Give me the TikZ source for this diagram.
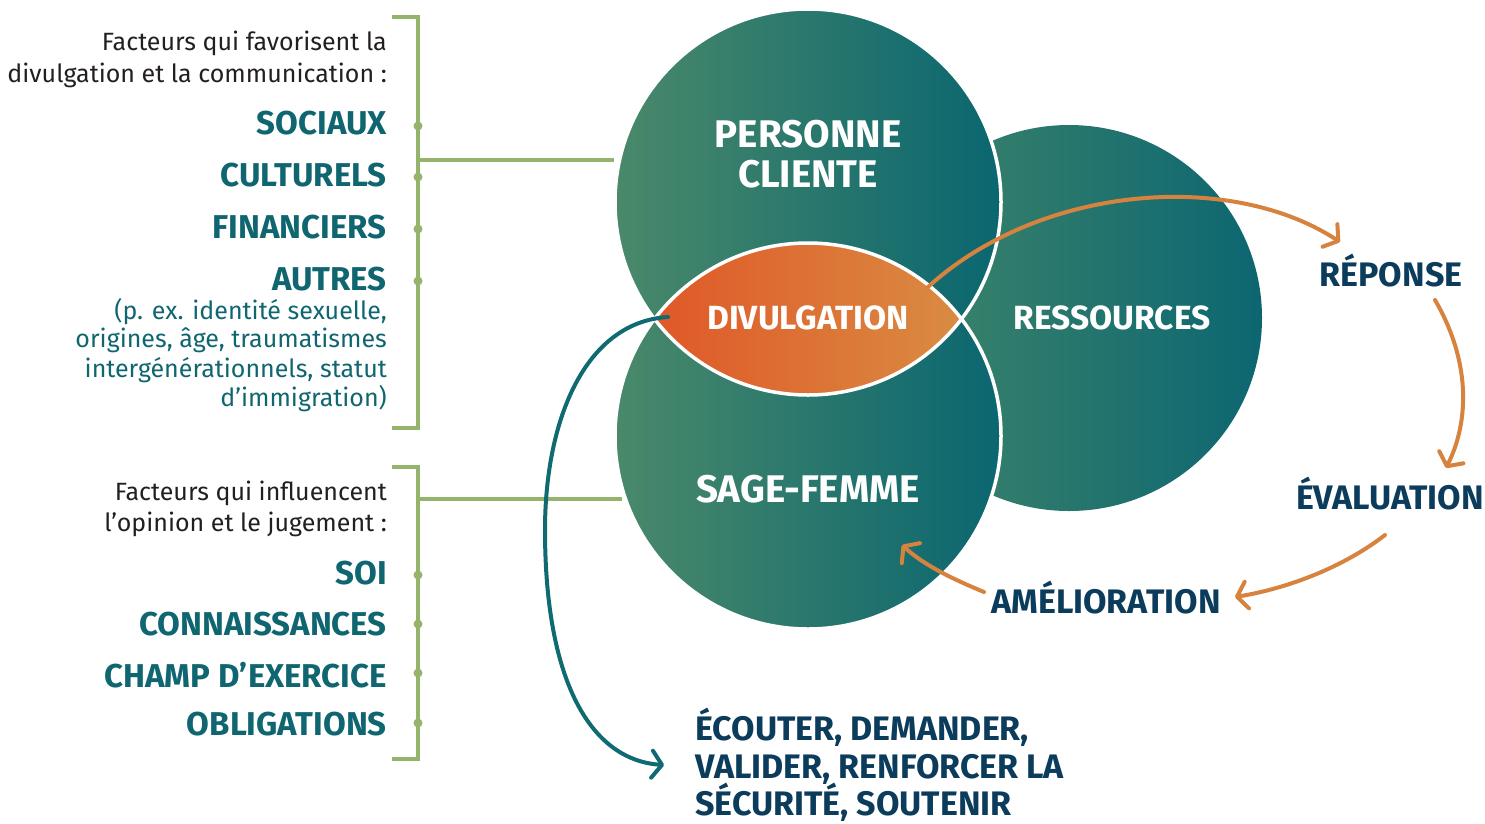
\documentclass[tikz,border=0pt]{standalone}
\usepackage{fontspec}
\setmainfont{Fira Sans}
\newfontfamily\fira{Fira Sans}
\usetikzlibrary{arrows.meta}
\definecolor{circL}{HTML}{4A896A}
\definecolor{circR}{HTML}{0A6670}
\definecolor{resL}{HTML}{428769}
\definecolor{resR}{HTML}{0C6671}
\definecolor{lensL}{HTML}{E05828}
\definecolor{lensR}{HTML}{D98C42}
\definecolor{orangeA}{HTML}{D6833F}
\definecolor{tealA}{HTML}{0F6A72}
\definecolor{greenB}{HTML}{94B46C}
\definecolor{navy}{HTML}{0C3C5C}
\definecolor{tealT}{HTML}{0F6670}
\definecolor{darkT}{HTML}{231F20}
\begin{document}
\begin{tikzpicture}[x=1pt,y=-1pt,
  intro/.style={font=\fira\fontsize{25}{29}\selectfont, text=darkT, anchor=base east, inner sep=0pt},
  note/.style={font=\fira\fontsize{25}{29}\selectfont, text=tealT, anchor=base east, inner sep=0pt},
  factor/.style={font=\fira\bfseries\fontsize{33}{40}\selectfont, text=tealT, anchor=base east, inner sep=0pt},
  circlab/.style={font=\fira\bfseries\fontsize{38.5}{40}\selectfont, text=white, anchor=base, inner sep=0pt},
  midlab/.style={font=\fira\bfseries\fontsize{33.5}{40}\selectfont, text=white, anchor=base, inner sep=0pt},
  cyc/.style={font=\fira\bfseries\fontsize{34}{40}\selectfont, text=navy, anchor=base, inner sep=0pt},
  act/.style={font=\fira\bfseries\fontsize{34}{40}\selectfont, text=navy, anchor=base west, inner sep=0pt},
  bracket/.style={draw=greenB, line width=4pt},
  gdot/.style={circle, fill=greenB, inner sep=0pt, minimum size=9pt},
  bigcirc/.style={circle, inner sep=0pt, minimum size=386pt},
  oarrow/.style={draw=orangeA, line width=4pt, line cap=round, -{Straight Barb[length=10pt,width=27pt,round]}},
  tarrow/.style={draw=tealA, line width=4pt, line cap=round, -{Straight Barb[length=10pt,width=27pt,round]}},
]
\useasboundingbox (0,0) rectangle (1485,823);

% circles
\node[bigcirc, left color=resL, right color=resR] (res) at (1069,318) {};
\node[bigcirc, left color=circL, right color=circR] (pc) at (808,202) {};
\node[bigcirc, left color=circL, right color=circR] (sf) at (808,436) {};
\begin{scope}
  \clip (808,202) circle (193pt);
  \clip (808,436) circle (193pt);
  \fill[left color=lensL, right color=lensR] (654,240) rectangle (963,398);
\end{scope}
\draw[white, line width=3.5pt] (pc.center) circle (193pt);
\draw[white, line width=3.5pt] (sf.center) circle (193pt);

% circle labels
\node[circlab] (pcl1) at (808,147) {PERSONNE};
\node[circlab] (pcl2) at (808,187) {CLIENTE};
\node[midlab] (div) at (808,329) {DIVULGATION};
\node[midlab] (resl) at (1112,329) {RESSOURCES};
\node[circlab] (sfl) at (808,502) {SAGE-FEMME};

% left group 1
\coordinate (b1a) at (392,17);
\coordinate (b1b) at (418,17);
\coordinate (b1c) at (418,428);
\coordinate (b1d) at (392,428);
\draw[bracket] (b1a) -- (b1b) -- (b1c) -- (b1d);
\coordinate (c1s) at (418,160);
\coordinate (c1e) at (614,160);
\draw[bracket] (c1s) -- (c1e);
\node[gdot] (d1) at (418,126) {};
\node[gdot] (d2) at (418,177) {};
\node[gdot] (d3) at (418,229) {};
\node[gdot] (d4) at (418,281) {};
\node[intro] (f1a) at (387,50) {Facteurs qui favorisent la};
\node[intro] (f1b) at (387,82) {divulgation et la communication :};
\node[factor] (soc) at (387,134) {SOCIAUX};
\node[factor] (cul) at (387,186) {CULTURELS};
\node[factor] (fin) at (387,238) {FINANCIERS};
\node[factor] (aut) at (387,290) {AUTRES};
\node[note] (n1) at (387,319) {(p. ex. identité sexuelle,};
\node[note] (n2) at (387,347) {origines, âge, traumatismes};
\node[note] (n3) at (387,377) {intergénérationnels, statut};
\node[note] (n4) at (387,406) {d’immigration)};

% left group 2
\coordinate (b2a) at (392,467);
\coordinate (b2b) at (418,467);
\coordinate (b2c) at (418,759);
\coordinate (b2d) at (392,759);
\draw[bracket] (b2a) -- (b2b) -- (b2c) -- (b2d);
\coordinate (c2s) at (418,499);
\coordinate (c2e) at (622,499);
\draw[bracket] (c2s) -- (c2e);
\node[gdot] (e1) at (418,575) {};
\node[gdot] (e2) at (418,624) {};
\node[gdot] (e3) at (418,673) {};
\node[gdot] (e4) at (418,723) {};
\node[intro] (f2a) at (387,500) {Facteurs qui influencent};
\node[intro] (f2b) at (387,531) {l’opinion et le jugement :};
\node[factor] (soi) at (387,584) {SOI};
\node[factor] (con) at (387,635) {CONNAISSANCES};
\node[factor] (cha) at (387,687) {CHAMP D’EXERCICE};
\node[factor] (obl) at (387,735) {OBLIGATIONS};

% cycle labels
\node[cyc] (rep) at (1391,286) {RÉPONSE};
\node[cyc] (eva) at (1390,509) {ÉVALUATION};
\node[cyc] (ame) at (1106,613) {AMÉLIORATION};

% action text
\node[act] (ac1) at (695,740) {ÉCOUTER, DEMANDER,};
\node[act] (ac2) at (695,778) {VALIDER, RENFORCER LA};
\node[act] (ac3) at (695,815) {SÉCURITÉ, SOUTENIR};

% arrows
\coordinate (o1s) at (928,287);
\coordinate (o1e) at (1340,242);
\draw[oarrow] (o1s) .. controls (1040,185) and (1230,170) .. (o1e);
\coordinate (o2s) at (1435,300);
\coordinate (o2e) at (1446,468);
\draw[oarrow] (o2s) .. controls (1470,360) and (1470,420) .. (o2e);
\coordinate (o3s) at (1385,535);
\coordinate (o3e) at (1235,597);
\draw[oarrow] (o3s) .. controls (1345,566) and (1290,588) .. (o3e);
\coordinate (o4s) at (984,592);
\coordinate (o4e) at (902,545);
\draw[oarrow] (o4s) .. controls (955,580) and (925,566) .. (o4e);

\coordinate (t1s) at (668,317);
\coordinate (t1m) at (545,530);
\coordinate (t1e) at (664,765);
\draw[tarrow] (t1s) .. controls (585,322) and (545,420) .. (t1m) .. controls (545,680) and (590,760) .. (t1e);
\end{tikzpicture}
\end{document}
